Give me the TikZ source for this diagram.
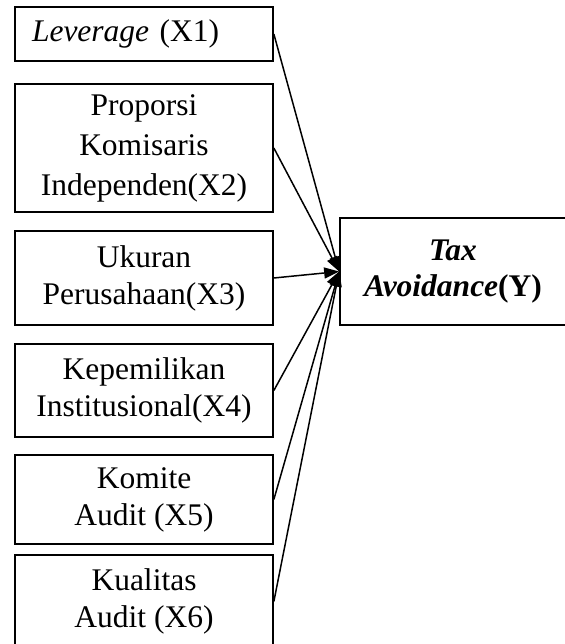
\documentclass[tikz,border=0pt]{standalone}
\usepackage{fontspec}
\setmainfont{Liberation Serif}
\usetikzlibrary{arrows.meta}
\begin{document}
\begin{tikzpicture}[x=1pt,y=-1pt,
  box/.style={draw, line width=1.7pt, minimum width=258pt, align=center, inner sep=0pt,
    font=\fontsize{31.5}{37}\selectfont},
  arr/.style={line width=1.5pt, -{Triangle[length=15pt,width=11pt]}}]
\useasboundingbox (0,0) rectangle (564,644);
\node[box, minimum height=54pt, text width=224pt, align=left] (x1) at (144,34) {\textit{Leverage} (X1)};
\node[box, minimum height=128pt, font=\fontsize{31.5}{40}\selectfont] (x2) at (144,148) {Proporsi\\Komisaris\\Independen(X2)};
\node[box, minimum height=94pt] (x3) at (144,278) {Ukuran\\Perusahaan(X3)};
\node[box, minimum height=93pt] (x4) at (144,390.5) {Kepemilikan\\Institusional(X4)};
\node[box, minimum height=89pt] (x5) at (144,499.5) {Komite\\Audit (X5)};
\node[box, minimum height=93pt] (x6) at (144,601.5) {Kualitas\\Audit (X6)};
\node[box, minimum width=226pt, minimum height=107pt, font=\fontsize{31.5}{36}\selectfont\bfseries] (y) at (453,271.5) {\textit{Tax}\\\textit{Avoidance}(Y)};
\foreach \n in {x1,x2,x3,x4,x5,x6}
  \draw[arr] (\n.east) -- (y.west);
\end{tikzpicture}
\end{document}
